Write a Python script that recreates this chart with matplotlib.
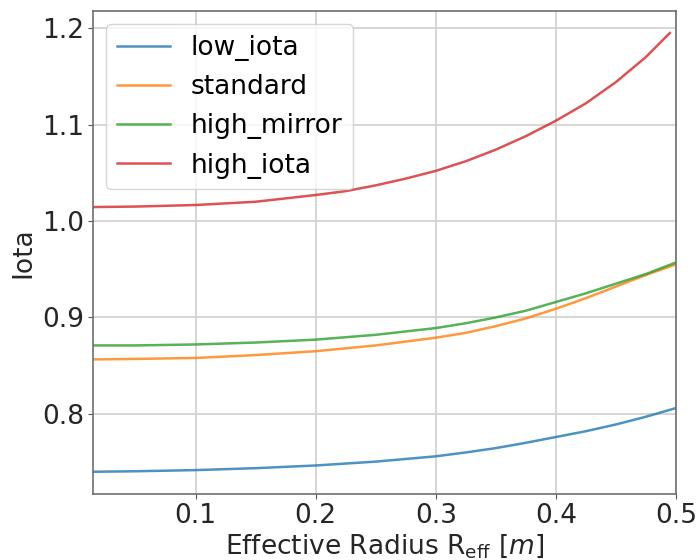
import matplotlib.pyplot as plt

# radial profiles of rotational transform for the configurations
r_eff = [0.015, 0.05, 0.1, 0.15, 0.2, 0.25, 0.3, 0.325, 0.35, 0.375, 0.4, 0.425, 0.45, 0.475, 0.5]
r_eff_high = [0.015, 0.05, 0.1, 0.15, 0.2, 0.225, 0.25, 0.275, 0.3, 0.325, 0.35, 0.375, 0.4,
              0.425, 0.45, 0.475, 0.495]

low_iota = [0.740, 0.7405, 0.7417, 0.7437, 0.7465, 0.7505, 0.756, 0.760, 0.7645, 0.770, 0.776, 0.782, 0.789, 0.797, 0.806]
standard = [0.8565, 0.857, 0.858, 0.861, 0.865, 0.871, 0.879, 0.884, 0.891, 0.899, 0.909, 0.920, 0.932, 0.944, 0.955]
high_mirror = [0.871, 0.871, 0.872, 0.874, 0.877, 0.882, 0.889, 0.894, 0.900, 0.907, 0.916, 0.925, 0.935, 0.945, 0.957]
high_iota = [1.0145, 1.015, 1.0166, 1.020, 1.027, 1.031, 1.037, 1.044, 1.052, 1.062, 1.074, 1.088, 1.104,
             1.122, 1.144, 1.170, 1.195]

plt.rcParams["font.size"] = 19

fig = plt.figure(figsize=(6.96, 5.6), dpi=100)
ax = fig.add_axes([0.1336, 0.118, 0.8374, 0.862])

ax.plot(r_eff, low_iota, color="tab:blue", lw=1.8, alpha=0.8, label="low_iota")
ax.plot(r_eff, standard, color="tab:orange", lw=1.8, alpha=0.8, label="standard")
ax.plot(r_eff, high_mirror, color="tab:green", lw=1.8, alpha=0.8, label="high_mirror")
ax.plot(r_eff_high, high_iota, color="tab:red", lw=1.8, alpha=0.8, label="high_iota")

ax.set_xlim(0.0144, 0.5)
ax.set_ylim(0.717, 1.2176)
ax.set_xticks([0.1, 0.2, 0.3, 0.4, 0.5])
ax.set_yticks([0.8, 0.9, 1.0, 1.1, 1.2])
ax.grid(True, color="#d0d0d0", lw=1.2)
for s in ax.spines.values():
    s.set_color("#6e6e6e")
    s.set_linewidth(1.2)
ax.tick_params(colors="#555555", labelcolor="#262626", pad=3)

ax.set_xlabel(r"Effective Radius R$_{\rm eff}$ [$m$]", color="#262626", labelpad=2)
ax.set_ylabel("Iota", color="#262626", labelpad=4)
ax.legend(loc="upper left", fontsize=19)

fig.savefig("out.png", dpi=100)
